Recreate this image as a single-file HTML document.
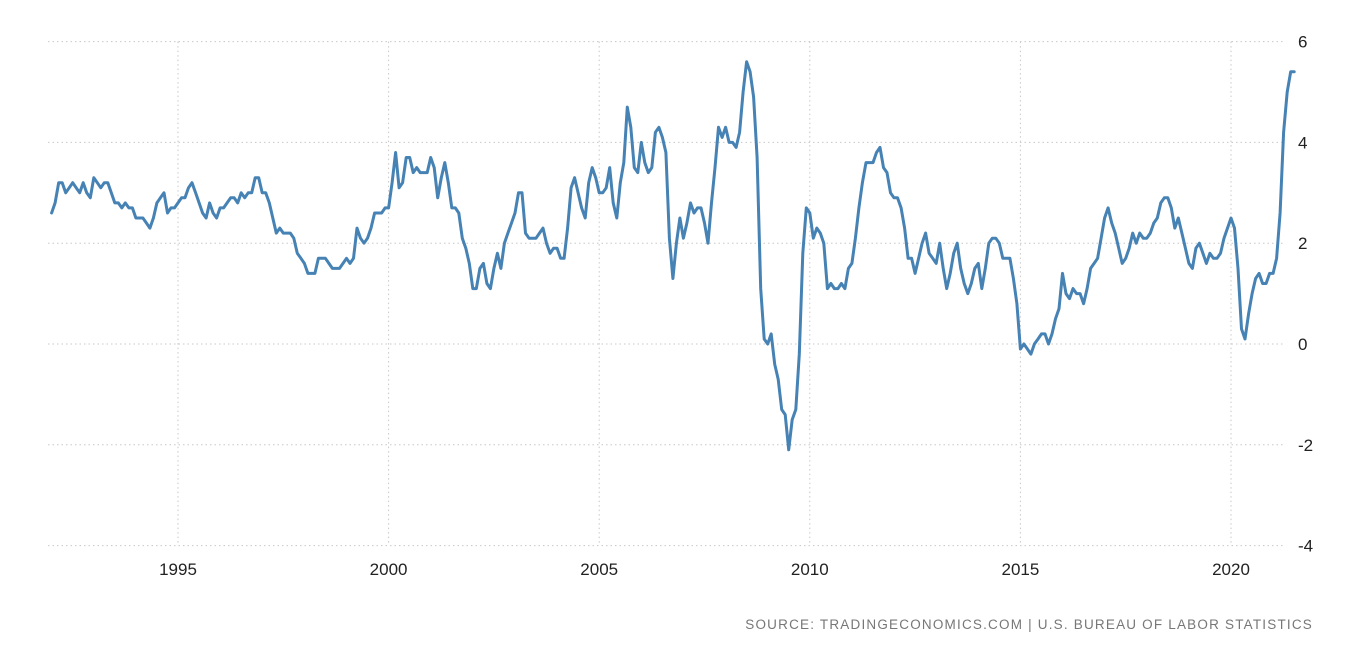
<!DOCTYPE html>
<html><head><meta charset="utf-8"><style>
html,body{margin:0;padding:0;background:#fff;}
body{width:1362px;height:647px;overflow:hidden;font-family:"Liberation Sans",sans-serif;}
</style></head><body>
<svg id="chart" width="1362" height="647" xmlns="http://www.w3.org/2000/svg">
<g id="grid"></g>
<g id="xlabels"></g>
<g id="ylabels"></g>
<path id="line" fill="none" stroke="#4682b4" stroke-width="3" stroke-linejoin="round" stroke-linecap="round"></path>
<text x="1313" y="629" text-anchor="end" font-size="13.5" fill="#777" letter-spacing="1.2">SOURCE: TRADINGECONOMICS.COM | U.S. BUREAU OF LABOR STATISTICS</text>
</svg>
<script>
const startYear = 1992;
const values = [
2.6,2.8,3.2,3.2,3.0,3.1,3.2,3.1,3.0,3.2,3.0,2.9,
3.3,3.2,3.1,3.2,3.2,3.0,2.8,2.8,2.7,2.8,2.7,2.7,
2.5,2.5,2.5,2.4,2.3,2.5,2.8,2.9,3.0,2.6,2.7,2.7,
2.8,2.9,2.9,3.1,3.2,3.0,2.8,2.6,2.5,2.8,2.6,2.5,
2.7,2.7,2.8,2.9,2.9,2.8,3.0,2.9,3.0,3.0,3.3,3.3,
3.0,3.0,2.8,2.5,2.2,2.3,2.2,2.2,2.2,2.1,1.8,1.7,
1.6,1.4,1.4,1.4,1.7,1.7,1.7,1.6,1.5,1.5,1.5,1.6,
1.7,1.6,1.7,2.3,2.1,2.0,2.1,2.3,2.6,2.6,2.6,2.7,
2.7,3.2,3.8,3.1,3.2,3.7,3.7,3.4,3.5,3.4,3.4,3.4,
3.7,3.5,2.9,3.3,3.6,3.2,2.7,2.7,2.6,2.1,1.9,1.6,
1.1,1.1,1.5,1.6,1.2,1.1,1.5,1.8,1.5,2.0,2.2,2.4,
2.6,3.0,3.0,2.2,2.1,2.1,2.1,2.2,2.3,2.0,1.8,1.9,
1.9,1.7,1.7,2.3,3.1,3.3,3.0,2.7,2.5,3.2,3.5,3.3,
3.0,3.0,3.1,3.5,2.8,2.5,3.2,3.6,4.7,4.3,3.5,3.4,
4.0,3.6,3.4,3.5,4.2,4.3,4.1,3.8,2.1,1.3,2.0,2.5,
2.1,2.4,2.8,2.6,2.7,2.7,2.4,2.0,2.8,3.5,4.3,4.1,
4.3,4.0,4.0,3.9,4.2,5.0,5.6,5.4,4.9,3.7,1.1,0.1,
0.0,0.2,-0.4,-0.7,-1.3,-1.4,-2.1,-1.5,-1.3,-0.2,1.8,2.7,
2.6,2.1,2.3,2.2,2.0,1.1,1.2,1.1,1.1,1.2,1.1,1.5,
1.6,2.1,2.7,3.2,3.6,3.6,3.6,3.8,3.9,3.5,3.4,3.0,
2.9,2.9,2.7,2.3,1.7,1.7,1.4,1.7,2.0,2.2,1.8,1.7,
1.6,2.0,1.5,1.1,1.4,1.8,2.0,1.5,1.2,1.0,1.2,1.5,
1.6,1.1,1.5,2.0,2.1,2.1,2.0,1.7,1.7,1.7,1.3,0.8,
-0.1,0.0,-0.1,-0.2,0.0,0.1,0.2,0.2,0.0,0.2,0.5,0.7,
1.4,1.0,0.9,1.1,1.0,1.0,0.8,1.1,1.5,1.6,1.7,2.1,
2.5,2.7,2.4,2.2,1.9,1.6,1.7,1.9,2.2,2.0,2.2,2.1,
2.1,2.2,2.4,2.5,2.8,2.9,2.9,2.7,2.3,2.5,2.2,1.9,
1.6,1.5,1.9,2.0,1.8,1.6,1.8,1.7,1.7,1.8,2.1,2.3,
2.5,2.3,1.5,0.3,0.1,0.6,1.0,1.3,1.4,1.2,1.2,1.4,
1.4,1.7,2.6,4.2,5.0,5.4,5.4
];
const xTicks = [1995, 2000, 2005, 2010, 2015, 2020];
const yTicks = [6, 4, 2, 0, -2, -4];

const NS = "http://www.w3.org/2000/svg";
function xScale(t){ return 178 + (t - 1995) * 42.12; }
function yScale(v){ return 344 - v * 50.4; }
const left = 48, right = 1285;

const grid = document.getElementById('grid');
const yl = document.getElementById('ylabels');
yTicks.forEach(v => {
  const l = document.createElementNS(NS, 'line');
  
  
  l.setAttribute('x1', left); l.setAttribute('x2', right);
  l.setAttribute('y1', yScale(v)); l.setAttribute('y2', yScale(v));
  l.setAttribute('stroke', '#c8c8c8'); l.setAttribute('stroke-dasharray', '1.5,3');
  grid.appendChild(l);
  const t = document.createElementNS(NS, 'text');
  
  
  t.setAttribute('x', 1298); t.setAttribute('y', yScale(v) + 6);
  t.setAttribute('font-size', '17'); t.setAttribute('fill', '#222');
  t.textContent = v;
  yl.appendChild(t);
});
const xl = document.getElementById('xlabels');
xTicks.forEach(yr => {
  const x = xScale(yr);
  const l = document.createElementNS(NS, 'line');
  
  
  l.setAttribute('x1', x); l.setAttribute('x2', x);
  l.setAttribute('y1', yScale(6)); l.setAttribute('y2', yScale(-4));
  l.setAttribute('stroke', '#c8c8c8'); l.setAttribute('stroke-dasharray', '1.5,3');
  grid.appendChild(l);
  const t = document.createElementNS(NS, 'text');
  
  
  t.setAttribute('x', x); t.setAttribute('y', 575);
  t.setAttribute('text-anchor', 'middle');
  t.setAttribute('font-size', '17'); t.setAttribute('fill', '#222');
  t.textContent = yr;
  xl.appendChild(t);
});
let d = '';
values.forEach((v, i) => {
  const x = xScale(startYear + i / 12), y = yScale(v);
  d += (i ? 'L' : 'M') + x.toFixed(1) + ',' + y.toFixed(1);
});
document.getElementById('line').setAttribute('d', d);
</script>
</body></html>
